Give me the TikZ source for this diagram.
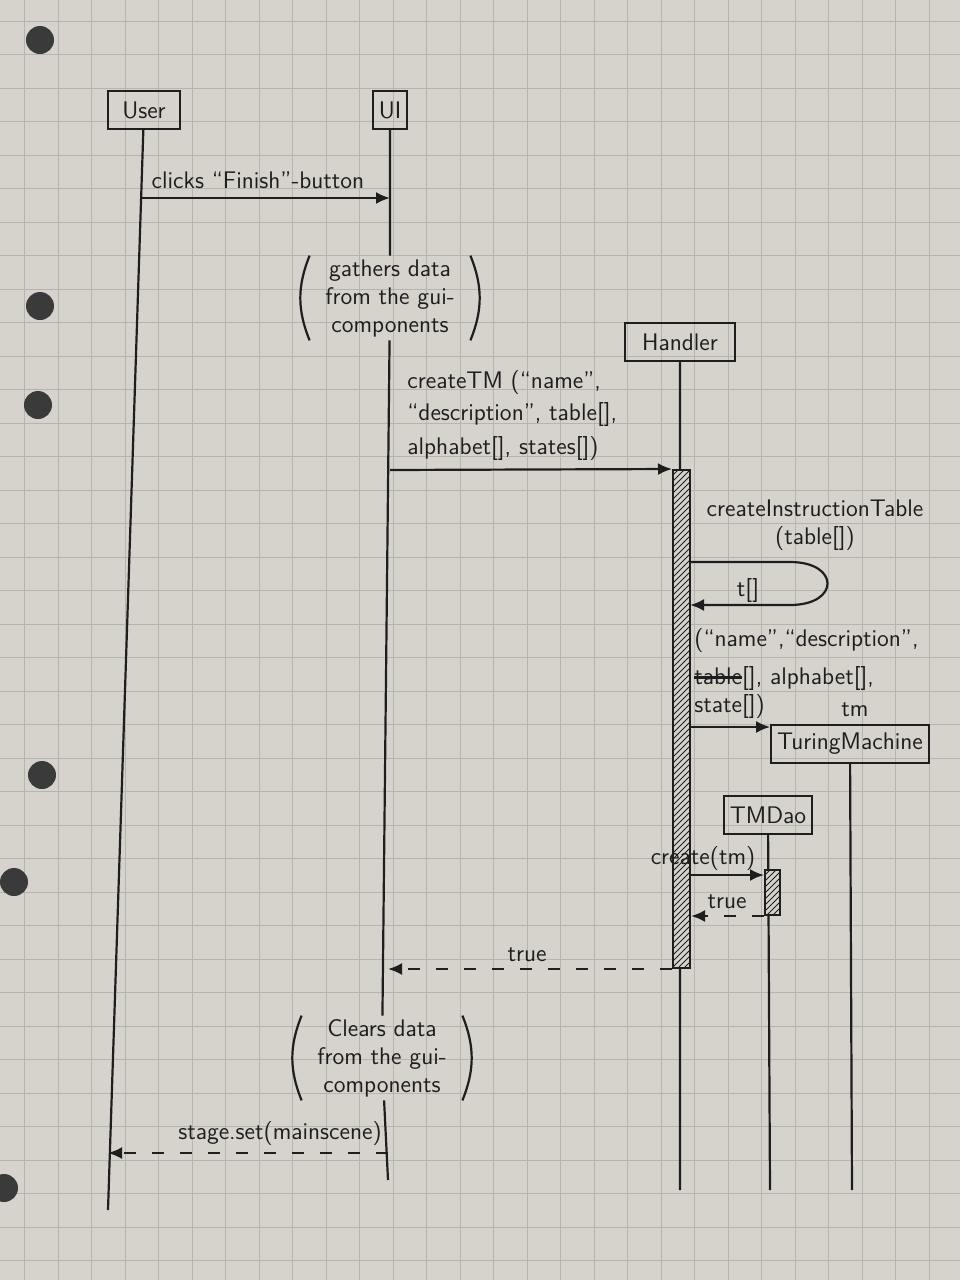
\documentclass[tikz,border=0pt]{standalone}
\usepackage{tikz}
\usetikzlibrary{patterns,arrows.meta}
\definecolor{paper}{HTML}{D6D3CD}
\definecolor{gridln}{HTML}{B7B4AE}
\definecolor{ink}{HTML}{1E1E1E}
\definecolor{hole}{HTML}{3A3A3A}
\newcommand{\seqobj}[4][]{\node[draw,line width=1.1pt,inner sep=0.3em,minimum height=19pt,#1] at (#2) (#3) {#4}}
\newcommand{\actbar}[4]{\node[draw,line width=1pt,inner sep=0pt,minimum width=#3,minimum height=#4,preaction={fill=paper},pattern=north east lines,pattern color=ink] at (#1) (#2) {}}
\newcommand{\strikeword}[1]{\setbox0\hbox{#1}\rlap{\rule[0.5ex]{\wd0}{1.4pt}}\box0}
\tikzset{
  msg/.style={line width=1.1pt,-{Latex[length=7pt,width=6pt]}},
  ret/.style={msg,dash pattern=on 6pt off 8pt},
  life/.style={line width=1.1pt},
  lbl/.style={inner sep=1pt},
  note/.style={align=center,minimum width=80pt,minimum height=42pt,inner sep=1pt},
  paren/.style={line width=1.1pt,bend right=22}
}

\begin{document}
\begin{tikzpicture}[x=0.5pt,y=-0.5pt,font=\large\sffamily,ink]
  \useasboundingbox (0,0) rectangle (960,1280);
  % the sheet
  \fill[paper] (0,0) rectangle (960,1280);
  \foreach \g in {0,...,28} \draw[gridln,line width=0.5pt] ({24.5+33.5*\g},0) -- ({24.5+33.5*\g},1280);
  \foreach \g in {0,...,37} \draw[gridln,line width=0.5pt] (0,{21+33.5*\g}) -- (960,{21+33.5*\g});
  \foreach \p in {{40,40},{40,306},{38,405},{42,775},{14,882},{4,1188}} \fill[hole] (\p) circle (7pt);

  \seqobj[minimum width=36pt]{144,110}{user}{User};
  \seqobj{390,110}{ui}{UI};
  \seqobj[minimum width=55pt]{680,342}{handler}{Handler};
  \seqobj{850,744}{tmach}{TuringMachine};
  \seqobj{768,815}{tmdao}{TMDao};

  \coordinate (userend) at (108,1210);
  \coordinate (uiend)   at (388,1180);
  \coordinate (hend)    at (680,1190);
  \coordinate (tmend)   at (852,1190);
  \coordinate (daoend)  at (770,1190);

  \node[note] (gather) at (390,298) {gathers data\\from the gui-\\components};
  \node[note] (clear)  at (382,1058) {Clears data\\from the gui-\\components};
  \draw[paren] (gather.north west) to (gather.south west);
  \draw[paren] (gather.south east) to (gather.north east);
  \draw[paren] (clear.north west) to (clear.south west);
  \draw[paren] (clear.south east) to (clear.north east);

  % lifelines
  \draw[life]
        (user)   -- (userend)
        (ui)     -- (gather)
        (gather) -- (clear)
        (clear)  -- (uiend)
        (handler) -- (hend)
        (tmach)  -- (tmend)
        (tmdao)  -- (daoend);

  \actbar{681.5,719}{hact}{8.5pt}{249pt};
  \actbar{772.5,892.5}{dact}{7.5pt}{22.5pt};

  % messages
  \coordinate (m1) at (142,198);
  \draw[msg] (m1) -- (m1 -| ui);
  \node[lbl] (clicks) at (258,180) {clicks ``Finish''-button};

  \coordinate (m2) at (390,470);
  \draw[msg] (m2) -- (hact.north west);
  \node[lbl,align=left,anchor=north west] (createtm) at (405,368)
    {createTM (``name'',\\[2pt]``description'', table[],\\[3pt]alphabet[], states[])};

  \coordinate (s1) at (690,562);
  \coordinate (s2) at (690,605);
  \draw[msg] (s1) -- ++(100,0) .. controls +(50,0) and +(50,0) .. ++(0,43) -- (s2);
  \node[lbl,align=center] (instr) at (815,525) {createInstructionTable\\(table[])};
  \node[lbl] (tret) at (748,590) {t[]};

  \node[lbl,align=left,anchor=north west] (ctor) at (692,626)
    {(``name'',``description'',\\[5pt]\strikeword{table}[], alphabet[],\\state[])};
  \node[lbl] (tm) at (855,710) {tm};
  \coordinate (k1) at (690,727);
  \draw[msg] (k1) -- (k1 -| tmach.west);

  \coordinate (c1) at (690,875);
  \draw[msg] (c1) -- (c1 -| dact.west);
  \node[lbl] (create) at (703,858) {create(tm)};
  \draw[ret] (dact.south west) -- (dact.south west -| hact.east);
  \node[lbl] (true1) at (727,902) {true};

  \draw[ret] (hact.south west) -- (hact.south west -| uiend);
  \node[lbl] (true2) at (527,955) {true};

  \coordinate (r3) at (388,1153);
  \draw[ret] (r3) -- (r3 -| userend);
  \node[lbl] (stage) at (280,1133) {stage.set(mainscene)};
\end{tikzpicture}
\end{document}
